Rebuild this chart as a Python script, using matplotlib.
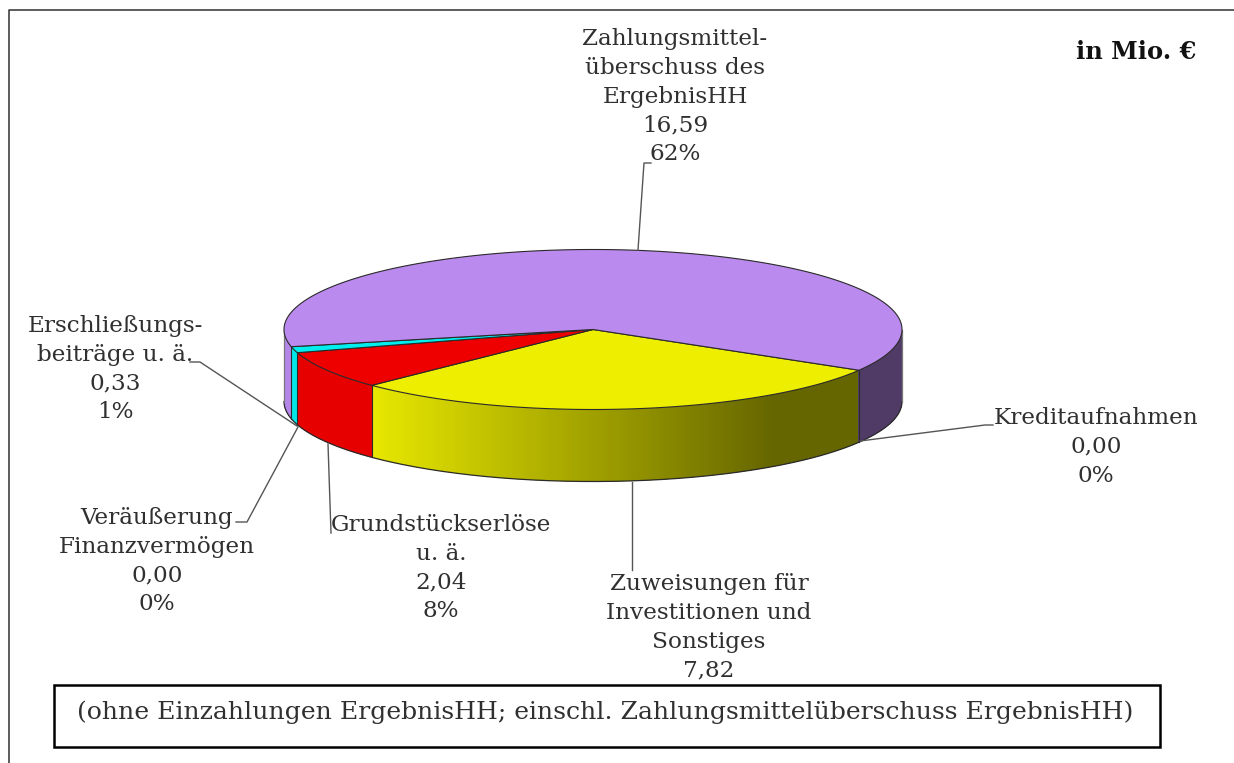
import numpy as np
import matplotlib
matplotlib.use("Agg")
import matplotlib.pyplot as plt
from matplotlib.collections import PolyCollection
from matplotlib.colors import to_rgb
from matplotlib.patches import Polygon, Rectangle

# data, in slice order (clockwise from the start angle)
names = [["Kreditaufnahmen"],
         ["Zuweisungen für", "Investitionen und", "Sonstiges"],
         ["Grundstückserlöse", "u. ä."],
         ["Veräußerung", "Finanzvermögen"],
         ["Erschließungs-", "beiträge u. ä."],
         ["Zahlungsmittel-", "überschuss des", "ErgebnisHH"]]
values = [0.00, 7.82, 2.04, 0.00, 0.33, 16.59]
show_percent = [True, False, True, True, True, True]  # the note box cuts off one percentage
colors = ["#3B7A57", "#EEEE00", "#EE0000", "#888888", "#00EEEE", "#BB8AEE"]
title = "in Mio. €"
note = "(ohne Einzahlungen ErgebnisHH; einschl. Zahlungsmittelüberschuss ErgebnisHH)"

# layout
W, H = 1234, 763
CX, CY, RX, RY, DEPTH = 593, 329.5, 309, 80, 72
START = -30.6
label_xy = [(1096, 418), (709, 584), (441, 525), (157, 518), (115, 326), (675, 39)]
leaders = [[(860, 441), (985, 425), (993, 425)],
           [(632, 482), (632, 570)],
           [(328, 444), (331, 533)],
           [(298, 427), (247, 522), (236, 522)],
           [(297, 426), (200, 362), (190, 362)],
           [(638, 250), (644, 163), (651, 163)]]
LINE = 28.8
FONT = ["DejaVu Serif"]
TXT = "#303030"
EDGE = "#2a2a2a"

fig = plt.figure(figsize=(W / 100, H / 100), dpi=100)
ax = fig.add_axes([0, 0, 1, 1])
ax.set_xlim(0, W)
ax.set_ylim(H, 0)
ax.axis("off")


def pt(a, dy=0.0):
    r = np.radians(a)
    return CX + RX * np.cos(r), CY - RY * np.sin(r) + dy


def shade(x):
    return np.interp(x, [373, 770], [0.97, 0.43])


total = sum(values)
spans = [v / total * 360 for v in values]
ends = START - np.cumsum(spans)
starts = np.r_[START, ends[:-1]]

# frame
ax.plot([9, 9, W], [H, 9.5, 9.5], color="#303030", lw=1.1, zorder=1)

# silhouette of the wall keeps the pixel-snapped strips inside the rim
front = np.linspace(-180, 0, 300)
bx, by = pt(front, DEPTH)
tx, ty = pt(front[::-1])
wall = Polygon(list(zip(bx, by)) + list(zip(tx, ty)), closed=True,
               transform=ax.transData, fill=False, lw=0)

# side wall, back to front
for a0, a1, col, sp in zip(starts, ends, colors, spans):
    if sp <= 0:
        continue
    n = max(int(sp * 2), 2)
    angs = np.linspace(a0, a1, n + 1)
    polys, cols = [], []
    for u, v in zip(angs[:-1], angs[1:]):
        if np.sin(np.radians((u + v) / 2)) >= 0:
            continue
        x0, y0 = pt(u)
        x1, y1 = pt(v)
        polys.append([(x0, y0), (x1, y1), (x1, y1 + DEPTH), (x0, y0 + DEPTH)])
        cols.append(tuple(np.array(to_rgb(col)) * shade((x0 + x1) / 2)))
    strips = PolyCollection(polys, facecolors=cols, edgecolors=cols,
                            linewidths=0.8, antialiaseds=False, zorder=2)
    ax.add_collection(strips)
    strips.set_clip_path(wall)

# bottom rim and silhouette
ax.plot(bx, by, color=EDGE, lw=0.9, zorder=3)
for a in (-180, 0):
    x, y = pt(a)
    ax.plot([x, x], [y, y + DEPTH], color="#777777", lw=0.9, zorder=3)

# vertical boundaries on the front wall
for a, sp in zip(starts, spans):
    if sp > 0 and np.sin(np.radians(a)) < 0:
        x, y = pt(a)
        ax.plot([x, x], [y, y + DEPTH], color=EDGE, lw=0.8, zorder=3)

# top face
for a0, a1, col, sp in zip(starts, ends, colors, spans):
    if sp <= 0:
        continue
    angs = np.linspace(a0, a1, max(int(sp * 2), 2) + 1)
    xs, ys = pt(angs)
    verts = [(CX, CY)] + list(zip(xs, ys))
    ax.add_patch(Polygon(verts, closed=True, facecolor=col, edgecolor=EDGE,
                         lw=0.8, joinstyle="round", zorder=4))

# leaders
for pts in leaders:
    p = np.array(pts)
    ax.plot(p[:, 0], p[:, 1], color="#555555", lw=1.0, zorder=5)

# labels
for name, v, sp_, (x, y) in zip(names, values, show_percent, label_xy):
    lines = list(name) + [f"{v:.2f}".replace(".", ",")]
    if sp_:
        lines.append(f"{round(v / total * 100)}%")
    for i, s in enumerate(lines):
        ax.text(x, y + i * LINE, s, ha="center", va="center", family=FONT,
                fontsize=16.7, color=TXT, zorder=6)

ax.text(1136, 52, title, ha="center", va="center", family=FONT, fontsize=17.4,
        fontweight="bold", color="#111111", zorder=6)

# note box
ax.add_patch(Rectangle((54, 685), 1106, 62, facecolor="white", edgecolor="black",
                       lw=1.8, zorder=7))
ax.text(605, 712, note, ha="center", va="center", family=FONT, fontsize=18.1,
        color=TXT, zorder=8)

fig.savefig("out.png", dpi=100, facecolor="white")
